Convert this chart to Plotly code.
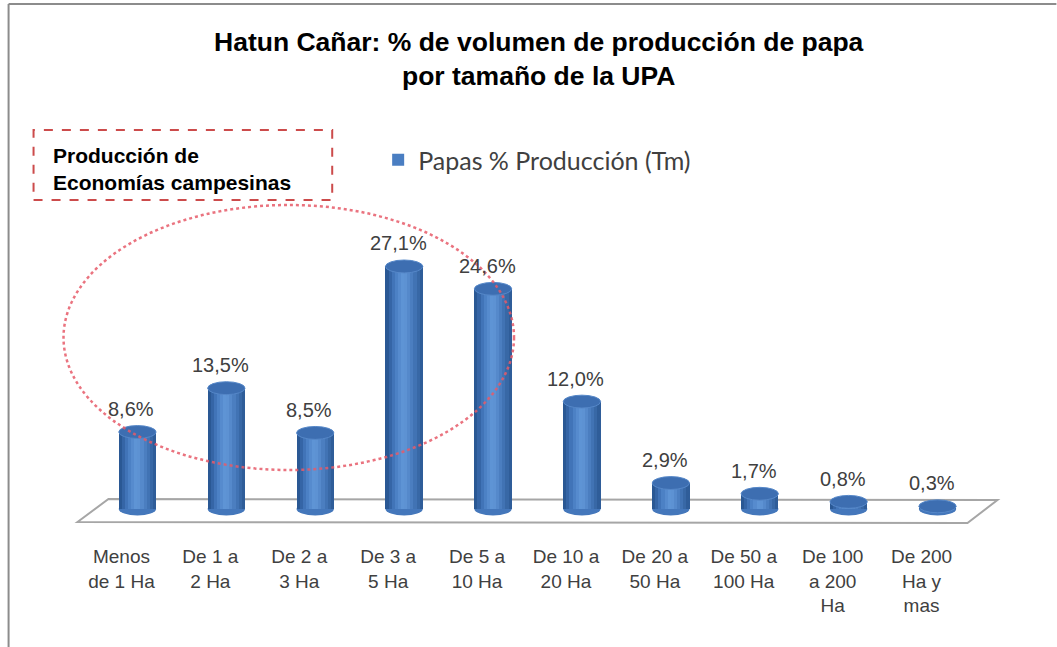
import plotly.graph_objects as go

# ---------------- data ----------------
categories = ["Menos<br>de 1 Ha", "De 1 a<br>2 Ha", "De 2 a<br>3 Ha", "De 3 a<br>5 Ha",
              "De 5 a<br>10 Ha", "De 10 a<br>20 Ha", "De 20 a<br>50 Ha", "De 50 a<br>100 Ha",
              "De 100<br>a 200<br>Ha", "De 200<br>Ha y<br>mas"]
values = [8.6, 13.5, 8.5, 27.1, 24.6, 12.0, 2.9, 1.7, 0.8, 0.3]
series_name = "Papas % Producción (Tm)"
title_text = "<b>Hatun Cañar: % de volumen de producción de papa<br>por tamaño de la UPA</b>"
note_text = "<b>Producción de<br>Economías campesinas</b>"

# ---------------- layout geometry (pixels) ----------------
FW, FH = 1057, 647
L, R = 76.5, 966.5          # plot area left/right
T, B = 120, 543             # plot area top/bottom
W, H = R - L, B - T
Y0 = 509                    # pixel of value 0
PPU = 8.95                  # pixels per percentage point
y_lo = -(B - Y0) / PPU
y_hi = (Y0 - T) / PPU

SHIFT = 16 / 89.0           # bars sit slightly right of their labels (3D depth)
BW = 0.42                   # bar width in category units
EH = 0.72                   # half height of ellipse caps in data units


def px(X):
    return (X - L) / W


def py(Y):
    return (B - Y) / H


idx = list(range(len(values)))
xb = [i + SHIFT for i in idx]

fig = go.Figure()

# base bars (legend entry)
fig.add_trace(go.Bar(x=xb, y=values, width=BW, name=series_name,
                     marker=dict(color="#4a7ec2", line=dict(width=0)),
                     showlegend=True, hoverinfo="y"))

# cylinder shading strips
shade = ["#2a5894", "#3565a6", "#4174b8", "#4c81c5", "#568bce", "#5e94d5",
         "#5d92d3", "#5589cb", "#4b7ec0", "#4173b4", "#3868a6", "#2f5d99"]
N = len(shade)
sw = BW / N
for k, col in enumerate(shade):
    off = (k - (N - 1) / 2) * sw
    fig.add_trace(go.Bar(x=[x + off for x in xb], y=values, width=sw * 1.04,
                         marker=dict(color=col, line=dict(width=0)),
                         showlegend=False, hoverinfo="skip"))

shapes = []
# frame lines
shapes.append(dict(type="line", xref="paper", yref="paper", x0=px(8), x1=px(FW), y0=py(4), y1=py(4),
                   line=dict(color="#8c8c8c", width=2)))
shapes.append(dict(type="line", xref="paper", yref="paper", x0=px(8), x1=px(8), y0=py(4), y1=py(FH),
                   line=dict(color="#8c8c8c", width=2)))
# floor
shapes.append(dict(type="path", xref="paper", yref="paper", layer="below",
                   path=f"M {px(77)},{py(522)} L {px(108)},{py(499)} L {px(998)},{py(500)} L {px(968)},{py(523)} Z",
                   fillcolor="white", line=dict(color="#a6a6a6", width=2)))
# cylinder bottoms and tops
for x, v in zip(xb, values):
    shapes.append(dict(type="circle", xref="x", yref="y", layer="below",
                       x0=x - BW / 2, x1=x + BW / 2, y0=-EH, y1=EH,
                       fillcolor="#4477bb", line=dict(width=0)))
    shapes.append(dict(type="circle", xref="x", yref="y", layer="above",
                       x0=x - BW / 2, x1=x + BW / 2, y0=v - EH, y1=v + EH,
                       fillcolor="#3d6eb1", line=dict(color="#5587c8", width=1)))
# dashed note box
shapes.append(dict(type="rect", xref="paper", yref="paper", x0=px(33), x1=px(332), y0=py(200), y1=py(130),
                   line=dict(color="#cc4b4b", width=2, dash="dash"), fillcolor="rgba(0,0,0,0)"))
# red dotted ellipse
shapes.append(dict(type="circle", xref="paper", yref="paper", layer="above",
                   x0=px(63), x1=px(514), y0=py(470), y1=py(205),
                   line=dict(color="rgba(230,90,105,0.85)", width=2.5, dash="dot")))

annotations = []
annotations.append(dict(text=title_text, xref="paper", yref="paper", x=px(539), y=py(59),
                        xanchor="center", yanchor="middle", showarrow=False,
                        font=dict(family="Liberation Sans, Arial", size=26.5, color="#000000")))
annotations.append(dict(text=note_text, xref="paper", yref="paper", x=px(50), y=py(169),
                        xanchor="left", yanchor="middle", showarrow=False, align="left",
                        font=dict(family="Liberation Sans, Arial", size=21, color="#000000")))
for x, v in zip(xb, values):
    annotations.append(dict(text=f"{v:.1f}".replace(".", ",") + "%", x=x, y=v, xref="x", yref="y",
                            showarrow=False, yshift=23, xshift=-6, xanchor="center", yanchor="middle",
                            font=dict(family="Liberation Sans, Arial", size=20, color="#404040")))

fig.update_layout(
    width=FW, height=FH,
    margin=dict(l=L, r=FW - R, t=T, b=FH - B, autoexpand=False),
    paper_bgcolor="white", plot_bgcolor="white",
    barmode="overlay", bargap=0,
    showlegend=True,
    legend=dict(x=px(378), y=py(137), xanchor="left", yanchor="top", bgcolor="rgba(0,0,0,0)",
                font=dict(family="Lato, Open Sans", size=25, color="#404040"),
                itemsizing="constant"),
    xaxis=dict(range=[-0.5, 9.5], tickvals=idx, ticktext=categories, showgrid=False,
               zeroline=False, showline=False, ticks="",
               tickfont=dict(family="Liberation Sans, Arial", size=19, color="#404040")),
    yaxis=dict(range=[y_lo, y_hi], visible=False, showgrid=False, zeroline=False),
    shapes=shapes, annotations=annotations,
)

fig.write_html("out.html", config={"displayModeBar": False},
               post_script="document.body.style.margin='0';")
